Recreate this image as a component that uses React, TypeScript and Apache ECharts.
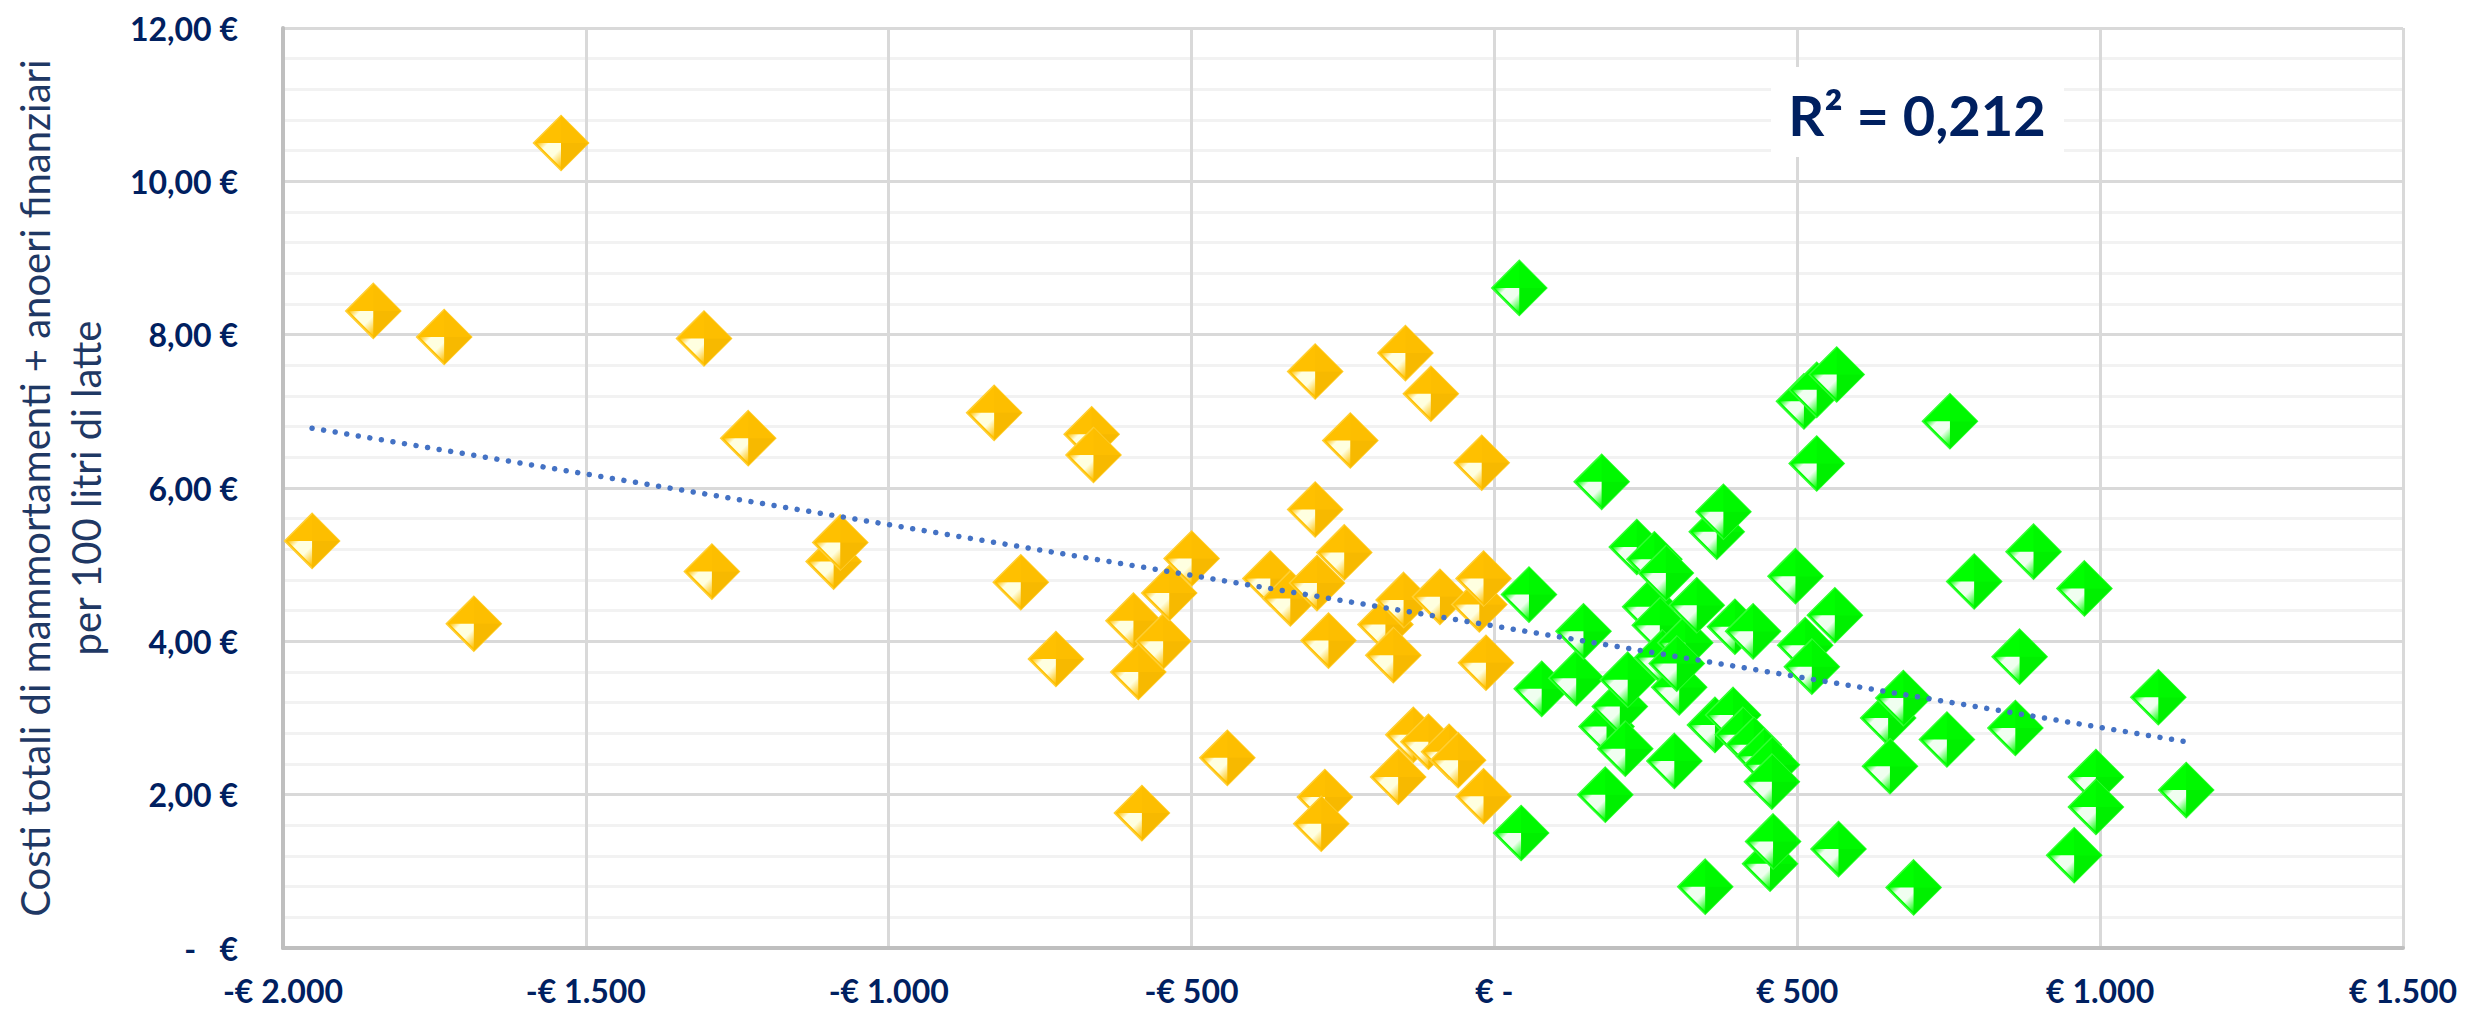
import React, { useEffect, useRef } from "react";
import * as echarts from "echarts";

// ---------- data ----------
const yellowX = [
  -1952, -1851, -1734, -1685, -1541, -1305, -1292, -1232, -1091, -1080,
  -826, -782, -724, -665, -662, -596, -588, -582, -547, -537,
  -500, -441, -370, -337, -296, -296, -293, -280, -286, -274,
  -248, -238, -180, -167, -159, -150, -147, -134, -109, -105,
  -90, -75, -60, -25, -21, -18, -18, -14,
];
const yellowY = [
  5.31, 8.31, 7.97, 4.23, 10.5, 7.95, 4.91, 6.65, 5.04, 5.29,
  6.98, 4.77, 3.77, 6.7, 6.43, 4.27, 3.6, 1.76, 4.0, 4.63,
  5.08, 2.48, 4.82, 4.56, 7.52, 5.72, 4.76, 1.97, 1.62, 4.01,
  5.16, 6.62, 4.22, 3.82, 2.23, 4.54, 7.76, 2.78, 2.69, 7.23,
  4.58, 2.56, 2.45, 4.48, 6.33, 1.98, 4.82, 3.72,
];
const greenX = [
  41, 44, 57, 78, 135, 147, 177, 183, 185, 207,
  216, 220, 235, 257, 264, 273, 277, 283, 297, 305,
  315, 301, 334, 348, 364, 367, 378, 394, 397, 410,
  428, 427, 445, 458, 458, 455, 460, 497, 511, 513,
  524, 532, 532, 562, 565, 568, 650, 653, 675, 692,
  747, 752, 792, 860, 867, 890, 957, 974, 993, 993,
  1096, 1142,
];
const greenY = [
  8.61, 1.5, 4.61, 3.38, 3.52, 4.13, 6.08, 2.0, 2.89, 3.15,
  2.6, 3.5, 5.23, 4.45, 5.07, 4.21, 3.79, 4.89, 2.44, 3.4,
  3.98, 3.71, 4.47, 0.8, 2.91, 5.43, 5.69, 3.04, 4.19, 2.78,
  2.65, 4.13, 2.5, 2.39, 2.17, 1.1, 1.39, 4.85, 7.13, 3.95,
  3.67, 6.32, 7.28, 4.34, 7.48, 1.29, 3.0, 2.37, 3.26, 0.79,
  2.72, 6.87, 4.78, 2.87, 3.8, 5.17, 1.21, 4.69, 2.23, 1.84,
  3.27, 2.06,
];
const trendX = [-1952, 1142];
const trendY = [6.78, 2.69];

const xTicks = [-2000, -1500, -1000, -500, 0, 500, 1000, 1500];
const xTickLabels = ["-€ 2.000", "-€ 1.500", "-€ 1.000", "-€ 500", "€ -", "€ 500", "€ 1.000", "€ 1.500"];
const yTicks = [0, 2, 4, 6, 8, 10, 12];
const yTickLabels = ["-   €", "2,00 €", "4,00 €", "6,00 €", "8,00 €", "10,00 €", "12,00 €"];
const yAxisTitle = "Costi totali di mammortamenti + anoeri finanziari\nper 100 litri di latte";
const r2Label = "R² = 0,212";

// ---------- style ----------
const NAVY = "#002060";
const TITLE_NAVY = "#1F3864";
const MARKER = 55;

type Palette = { base: string; topRight: string; bottomRight: string; light: string; rim: string };
const YELLOW: Palette = { base: "#FFC000", topRight: "#FDBE00", bottomRight: "#F7B900", light: "#FFFFE0", rim: "#FFCF33" };
const GREEN: Palette = { base: "#00FF00", topRight: "#00F800", bottomRight: "#00F000", light: "#F0FFF0", rim: "#33FF33" };

function diamondRenderer(c: Palette) {
  return (_params: any, api: any) => {
    const pt = api.coord([api.value(0), api.value(1)]);
    const cx = pt[0];
    const cy = pt[1];
    const r = MARKER / 2;
    const grad = new echarts.graphic.LinearGradient(0, 0, 1, 1, [
      { offset: 0, color: c.base },
      { offset: 0.25, color: c.light },
      { offset: 0.6, color: c.light },
      { offset: 1, color: c.base },
    ]);
    return {
      type: "group",
      children: [
        { type: "polygon", shape: { points: [[cx, cy - r], [cx + r, cy], [cx, cy + r], [cx - r, cy]] }, style: { fill: c.base, stroke: c.rim, lineWidth: 1.5 } },
        { type: "polygon", shape: { points: [[cx, cy - r], [cx + r, cy], [cx, cy]] }, style: { fill: c.topRight } },
        { type: "polygon", shape: { points: [[cx, cy], [cx + r, cy], [cx, cy + r]] }, style: { fill: c.bottomRight } },
        { type: "polygon", shape: { points: [[cx - r + 3, cy], [cx, cy], [cx, cy + r - 3]] }, style: { fill: grad } },
      ],
    };
  };
}

const zip = (xs: number[], ys: number[]) => xs.map((x, i) => [x, ys[i]]);

export default function App() {
  const ref = useRef<HTMLDivElement>(null);
  useEffect(() => {
    if (!ref.current) return;
    const chart = echarts.init(ref.current, undefined, { renderer: "svg" });
    const labelFont = { color: NAVY, fontFamily: "Lato", fontWeight: "bold" as const, fontSize: 32 };
    chart.setOption({
      animation: false,
      backgroundColor: "#FFFFFF",
      grid: { left: 283, right: 63, top: 28, bottom: 66 },
      xAxis: {
        type: "value",
        min: -2000,
        max: 1500,
        interval: 500,
        axisLine: { show: true, onZero: false, lineStyle: { color: "#BFBFBF", width: 4 } },
        axisTick: { show: false },
        splitLine: { show: true, lineStyle: { color: "#D9D9D9", width: 3 } },
        axisLabel: {
          ...labelFont,
          margin: 26,
          formatter: (v: number) => {
            const i = xTicks.indexOf(v);
            return i >= 0 ? xTickLabels[i] : "";
          },
        },
      },
      yAxis: {
        type: "value",
        min: 0,
        max: 12,
        interval: 2,
        name: yAxisTitle,
        nameLocation: "middle",
        nameRotate: 90,
        nameGap: 172,
        nameTextStyle: { color: TITLE_NAVY, fontFamily: "Lato", fontSize: 40, lineHeight: 51 },
        axisLine: { show: true, onZero: false, lineStyle: { color: "#BFBFBF", width: 4 } },
        axisTick: { show: false },
        minorTick: { show: false, splitNumber: 5 },
        splitLine: { show: true, lineStyle: { color: "#D9D9D9", width: 3 } },
        minorSplitLine: { show: true, lineStyle: { color: "#F2F2F2", width: 3 } },
        axisLabel: {
          ...labelFont,
          margin: 45,
          formatter: (v: number) => {
            const i = yTicks.indexOf(v);
            return i >= 0 ? yTickLabels[i] : "";
          },
        },
      },
      series: [
        {
          name: "Negativo",
          type: "custom",
          renderItem: diamondRenderer(YELLOW),
          encode: { x: 0, y: 1 },
          data: zip(yellowX, yellowY),
          z: 3,
        },
        {
          name: "Positivo",
          type: "custom",
          renderItem: diamondRenderer(GREEN),
          encode: { x: 0, y: 1 },
          data: zip(greenX, greenY),
          z: 4,
        },
        {
          name: "Tendenza lineare",
          type: "line",
          data: zip(trendX, trendY),
          showSymbol: false,
          symbol: "none",
          z: 10,
          lineStyle: { color: "#4472C4", width: 5.5, type: [0.01, 11.7], cap: "round" },
        },
      ],
      graphic: [
        { type: "rect", z: 20, shape: { x: 1771, y: 67, width: 293, height: 90 }, style: { fill: "#FFFFFF" } },
        {
          type: "text",
          z: 21,
          x: 1917,
          y: 114,
          style: { text: r2Label, fill: NAVY, font: "bold 56px Lato", textAlign: "center", textVerticalAlign: "middle" },
        },
      ],
    });
    return () => chart.dispose();
  }, []);
  return <div ref={ref} style={{ position: "fixed", left: 0, top: 0, width: 2466, height: 1014 }} />;
}
